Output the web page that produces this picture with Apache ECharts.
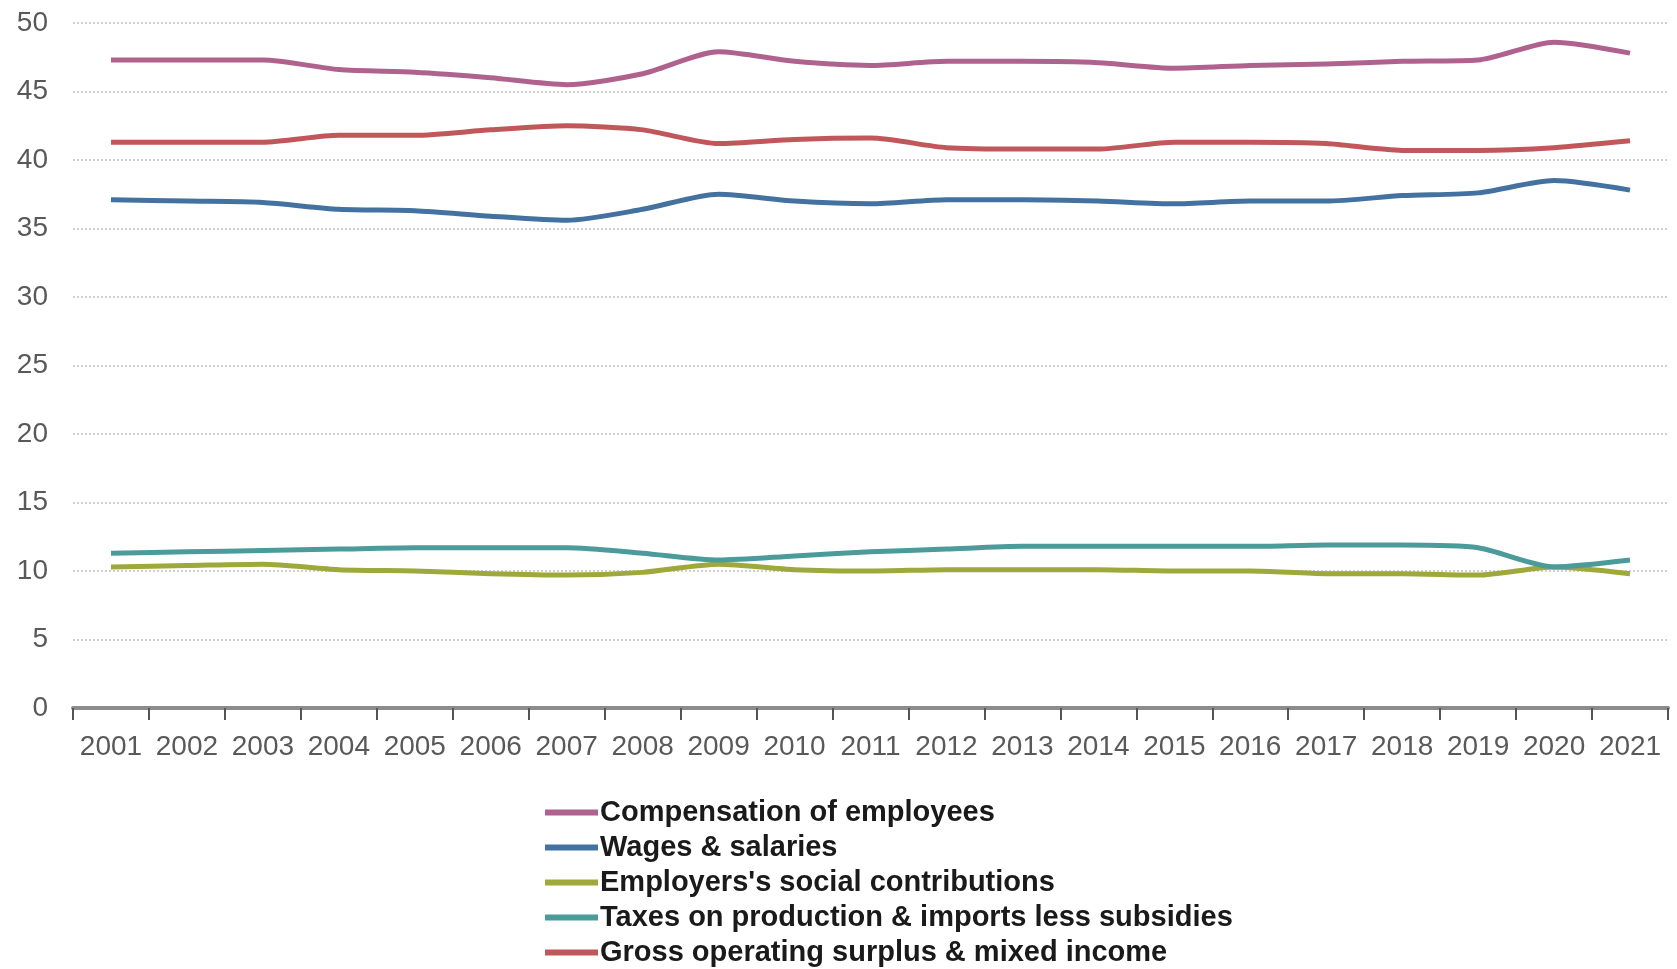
<!DOCTYPE html>
<html>
<head>
<meta charset="utf-8">
<title>Income components, 2001-2021</title>
<script src="https://cdn.jsdelivr.net/npm/echarts@6/dist/echarts.min.js"></script>
<style>
  html, body { margin: 0; padding: 0; background: #ffffff; }
  #chart { width: 1677px; height: 969px; }
</style>
</head>
<body>
<div id="chart"></div>
<script>
// Years on the category axis
const years = ['2001','2002','2003','2004','2005','2006','2007','2008','2009','2010',
               '2011','2012','2013','2014','2015','2016','2017','2018','2019','2020','2021'];

// Shares (%) per component
const compensation = [47.3, 47.3, 47.3, 46.6, 46.4, 46.0, 45.5, 46.3, 47.9, 47.2, 46.9,
                      47.2, 47.2, 47.1, 46.7, 46.9, 47.0, 47.2, 47.3, 48.6, 47.8];
const wages        = [37.1, 37.0, 36.9, 36.4, 36.3, 35.9, 35.6, 36.4, 37.5, 37.0, 36.8,
                      37.1, 37.1, 37.0, 36.8, 37.0, 37.0, 37.4, 37.6, 38.5, 37.8];
const employers    = [10.3, 10.4, 10.5, 10.1, 10.0, 9.8, 9.7, 9.9, 10.5, 10.1, 10.0,
                      10.1, 10.1, 10.1, 10.0, 10.0, 9.8, 9.8, 9.7, 10.3, 9.8];
const taxes        = [11.3, 11.4, 11.5, 11.6, 11.7, 11.7, 11.7, 11.3, 10.8, 11.1, 11.4,
                      11.6, 11.8, 11.8, 11.8, 11.8, 11.9, 11.9, 11.7, 10.3, 10.8];
const gross        = [41.3, 41.3, 41.3, 41.8, 41.8, 42.2, 42.5, 42.2, 41.2, 41.5, 41.6,
                      40.9, 40.8, 40.8, 41.3, 41.3, 41.2, 40.7, 40.7, 40.9, 41.4];

// Series names as shown in the legend
const names = [
  'Compensation of employees',
  'Wages & salaries',
  "Employers's social contributions",
  'Taxes on production & imports less subsidies',
  'Gross operating surplus & mixed income'
];
const colors = ['#b0628f', '#4472a0', '#9fa83a', '#4c9b9b', '#c0575a'];
const values = [compensation, wages, employers, taxes, gross];

const FONT = '"Liberation Sans", Arial, sans-serif';

const chart = echarts.init(document.getElementById('chart'), null, { renderer: 'canvas' });

chart.setOption({
  animation: false,
  backgroundColor: '#ffffff',
  color: colors,
  grid: { left: 73, right: 9, top: 23, bottom: 261, containLabel: false },
  legend: {
    orient: 'vertical',
    left: 545,
    top: 798,
    height: 300,
    icon: 'rect',
    itemWidth: 53,
    itemHeight: 6,
    itemGap: 6,
    padding: 0,
    data: names,
    textStyle: {
      fontFamily: FONT, fontSize: 29, fontWeight: 'bold', lineHeight: 28,
      color: '#1a1a1a', padding: [0, 0, 0, -3]
    }
  },
  xAxis: {
    type: 'category',
    data: years,
    boundaryGap: true,
    axisLine: { show: true, lineStyle: { color: '#8c8c8c', width: 4 } },
    axisTick: { show: true, length: 12, lineStyle: { color: '#555555', width: 2 } },
    axisLabel: { interval: 0, fontFamily: FONT, fontSize: 28, color: '#595959', margin: 25 },
    splitLine: { show: false }
  },
  yAxis: {
    type: 'value',
    min: 0,
    max: 50,
    interval: 5,
    axisLine: { show: false },
    axisTick: { show: false },
    axisLabel: { fontFamily: FONT, fontSize: 28, color: '#595959', margin: 25 },
    splitLine: { show: true, lineStyle: { color: '#cfcfcf', width: 2, type: [2, 2] } }
  },
  series: names.map((n, i) => ({
    name: n,
    type: 'line',
    data: values[i],
    symbol: 'none',
    smooth: 0.25,
    lineStyle: { width: 5, color: colors[i], cap: 'butt', join: 'round' },
    itemStyle: { color: colors[i] },
    emphasis: { disabled: true }
  }))
});
</script>
</body>
</html>
